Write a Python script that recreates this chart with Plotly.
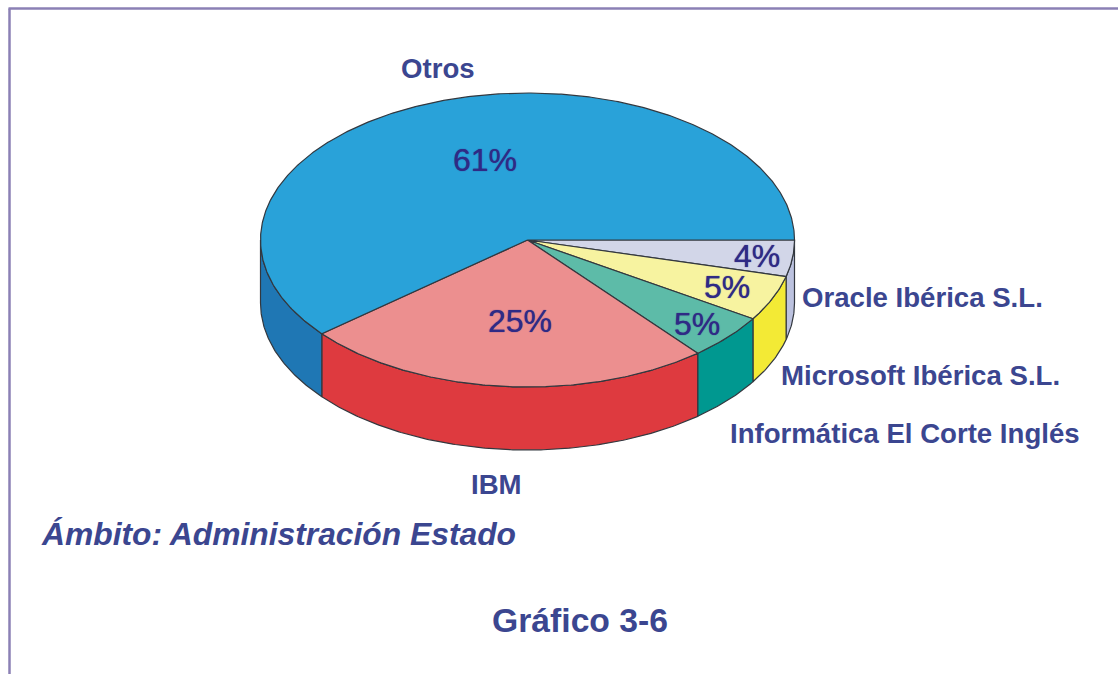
import numpy as np
import plotly.graph_objects as go

# ---- data ----
categories = ["Oracle Ibérica S.L.", "Microsoft Ibérica S.L.", "Informática El Corte Inglés", "IBM", "Otros"]
values = [4, 5, 5, 25, 61]
subtitle = "Ámbito: Administración Estado"
chart_title = "Gráfico 3-6"

# ---- style ----
top_colors = ["#D2D6E8", "#F7F3A0", "#5DBBA8", "#EC8F8F", "#29A2D9"]
side_colors = ["#BCC2DF", "#F3EA35", "#009890", "#DE3A3F", "#1F77B4"]
TEXT = "#3B4690"
PCT = "#2F2A85"
EDGE = "#33383F"
FONT = "Liberation Sans, Arial, sans-serif"
CX, CY, RX, RY, DEPTH = 527.5, 240, 267, 147, 63
name_pos = [(922.5, 297), (920, 375), (905, 433), (496, 484), (438, 68)]
pct_pos = [(757, 256), (727, 287), (697, 324), (520, 321), (485, 160)]


def arc(a0, a1, dy=0.0):
    t = np.radians(np.linspace(a0, a1, max(int(abs(a1 - a0) * 2), 2)))
    return CX + RX * np.cos(t), CY + RY * np.sin(t) + dy


fig = go.Figure()
edges = np.cumsum([0] + values) / sum(values) * 360.0

# side walls: only the front half of the cake shows
for i, cat in enumerate(categories):
    a0, a1 = edges[i], min(edges[i + 1], 180.0)
    if a0 >= 180:
        continue
    x0, y0 = arc(a0, a1)
    x1, y1 = arc(a1, a0, DEPTH)
    fig.add_trace(go.Scatter(
        x=np.r_[x0, x1, x0[0]], y=np.r_[y0, y1, y0[0]], mode="lines", fill="toself",
        fillcolor=side_colors[i], line=dict(color=EDGE, width=1.2), name=cat,
        showlegend=False, hoverinfo="skip"))

# top faces
for i, cat in enumerate(categories):
    xa, ya = arc(edges[i], edges[i + 1])
    fig.add_trace(go.Scatter(
        x=np.r_[CX, xa, CX], y=np.r_[CY, ya, CY], mode="lines", fill="toself",
        fillcolor=top_colors[i], line=dict(color=EDGE, width=1.2), name=cat,
        showlegend=False, hoverinfo="name"))

annotations = []
def label(x, y, text, size, color, shadow="none", **kw):
    annotations.append(dict(x=x, y=y, xref="x", yref="y", text=text, showarrow=False,
                            font=dict(family=FONT, size=size, color=color, shadow=shadow), **kw))

for cat, (x, y) in zip(categories, name_pos):
    label(x, y, f"<b>{cat}</b>", 27.6, TEXT)
for v, (x, y) in zip(values, pct_pos):
    label(x, y, f"{v}%", 32, PCT, shadow=f"0 0 1px {PCT}")
label(39, 534, f"<b><i>{subtitle}</i></b>", 31.8, TEXT, xanchor="left")
label(580, 620, f"<b>{chart_title}</b>", 33.7, TEXT)

fig.update_layout(
    width=1118, height=674, margin=dict(l=0, r=0, t=0, b=0),
    paper_bgcolor="white", plot_bgcolor="white", showlegend=False,
    xaxis=dict(range=[0, 1118], visible=False, fixedrange=True),
    yaxis=dict(range=[674, 0], visible=False, fixedrange=True),
    annotations=annotations,
    shapes=[
        dict(type="line", xref="paper", yref="paper", x0=8.5 / 1118, x1=1, y0=1 - 8.5 / 674, y1=1 - 8.5 / 674,
             line=dict(color="#8B80B5", width=2.5)),
        dict(type="line", xref="paper", yref="paper", x0=9.5 / 1118, x1=9.5 / 1118, y0=0, y1=1 - 8.5 / 674,
             line=dict(color="#8B80B5", width=2.5)),
    ],
)
fig.write_html("out.html", config=dict(displayModeBar=False),
               post_script="document.body.style.margin='0';")
